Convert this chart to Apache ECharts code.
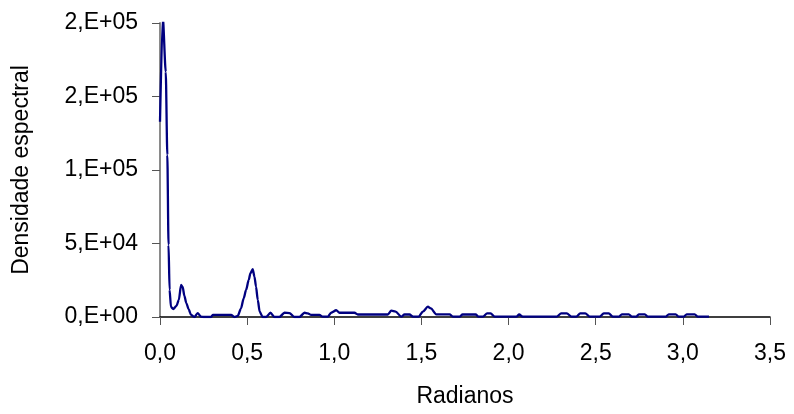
<!DOCTYPE html>
<html>
<head>
<meta charset="utf-8">
<script src="https://cdn.jsdelivr.net/npm/echarts@6/dist/echarts.min.js"></script>
<style>
  html, body { margin: 0; padding: 0; background: #fff; }
  #chart { width: 794px; height: 414px; }
</style>
</head>
<body>
<div id="chart"></div>
<script>
// Periodogram: frequency (rad) and spectral density
const radianos = [
  0.000, 0.016, 0.033, 0.042, 0.049, 0.055, 0.063, 0.076, 0.094, 0.108,
  0.121, 0.130, 0.140, 0.151, 0.164, 0.178, 0.197, 0.216, 0.235, 0.254,
  0.293, 0.303, 0.408, 0.427, 0.446, 0.465, 0.480, 0.494, 0.509, 0.519,
  0.532, 0.542, 0.551, 0.561, 0.572, 0.589, 0.609, 0.634, 0.656, 0.685,
  0.714, 0.743, 0.771, 0.800, 0.829, 0.848, 0.867, 0.915, 0.934, 0.963,
  0.982, 1.011, 1.030, 1.116, 1.135, 1.307, 1.327, 1.352, 1.384, 1.403,
  1.432, 1.452, 1.484, 1.508, 1.537, 1.554, 1.585, 1.662, 1.681, 1.719,
  1.736, 1.811, 1.828, 1.853, 1.877, 1.897, 1.920, 2.045, 2.061, 2.081,
  2.276, 2.302, 2.334, 2.361, 2.389, 2.411, 2.440, 2.466, 2.523, 2.546,
  2.575, 2.598, 2.633, 2.650, 2.690, 2.708, 2.733, 2.747, 2.782, 2.799,
  2.902, 2.919, 2.959, 2.976, 3.005, 3.022, 3.068, 3.086, 3.150
];
const densidade = [
  132800, 204300, 166800, 110300, 49000, 18400, 6800, 5400, 7500, 11600,
  21800, 20400, 14300, 9500, 5400, 1400, 0, 2700, 300, 0,
  0, 1400, 1400, 0, 700, 5900, 12700, 18400, 25200, 29800,
  32500, 27400, 20600, 11600, 3600, 0, 0, 2900, 0, 0,
  2900, 2700, 0, 0, 2900, 2500, 1400, 1400, 200, 200,
  2900, 4600, 2900, 2900, 1700, 1700, 4300, 3700, 200, 1700,
  1700, 200, 200, 3600, 7000, 5800, 1800, 1800, 200, 200,
  1700, 1700, 200, 200, 2500, 2500, 200, 200, 1700, 200,
  200, 2500, 2500, 200, 200, 2500, 2500, 200, 200, 2500,
  2500, 200, 200, 1800, 1800, 200, 200, 1800, 1800, 200,
  200, 1800, 1800, 200, 200, 1800, 1800, 200, 200
];
const xTickLabels = ['0,0', '0,5', '1,0', '1,5', '2,0', '2,5', '3,0', '3,5'];
const yTickLabels = ['0,E+00', '5,E+04', '1,E+05', '2,E+05', '2,E+05'];

const X_STEP = 0.5;
const Y_STEP = 50000;
const FONT = '"Liberation Sans", Arial, sans-serif';
const FS = 23;

const chart = echarts.init(document.getElementById('chart'), null, { renderer: 'canvas' });

chart.setOption({
  animation: false,
  backgroundColor: '#ffffff',
  textStyle: { fontFamily: FONT },
  grid: {
    left: 160, right: 24, top: 23, bottom: 97,
    containLabel: false,
    outerBoundsMode: 'none'
  },
  xAxis: {
    type: 'value',
    min: 0, max: 3.5, interval: X_STEP,
    name: 'Radianos',
    nameLocation: 'middle',
    nameGap: 68,
    nameTextStyle: { fontSize: FS, color: '#000', fontFamily: FONT },
    axisLine: { onZero: false, lineStyle: { color: '#000', width: 1.5 } },
    axisTick: { show: true, inside: false, length: 8, lineStyle: { color: '#555', width: 1 } },
    axisLabel: {
      margin: 25, fontSize: FS, color: '#000', fontFamily: FONT,
      formatter: v => xTickLabels[Math.round(v / X_STEP)]
    },
    splitLine: { show: false }
  },
  yAxis: {
    type: 'value',
    min: 0, max: 200000, interval: Y_STEP,
    name: 'Densidade espectral',
    nameLocation: 'middle',
    nameGap: 127,
    nameRotate: 90,
    nameTextStyle: { fontSize: FS, color: '#000', fontFamily: FONT },
    axisLine: { show: true, lineStyle: { color: '#8a8a8a', width: 2 } },
    axisTick: { show: true, inside: false, length: 8, lineStyle: { color: '#555', width: 1 } },
    axisLabel: {
      margin: 22, fontSize: FS, color: '#000', fontFamily: FONT,
      formatter: v => yTickLabels[Math.round(v / Y_STEP)]
    },
    splitLine: { show: false }
  },
  series: [{
    type: 'line',
    data: radianos.map((r, i) => [r, densidade[i]]),
    showSymbol: false,
    smooth: 0.25,
    smoothMonotone: 'x',
    lineStyle: { color: '#000080', width: 2.3 },
    z: 3
  }]
});
</script>
</body>
</html>
